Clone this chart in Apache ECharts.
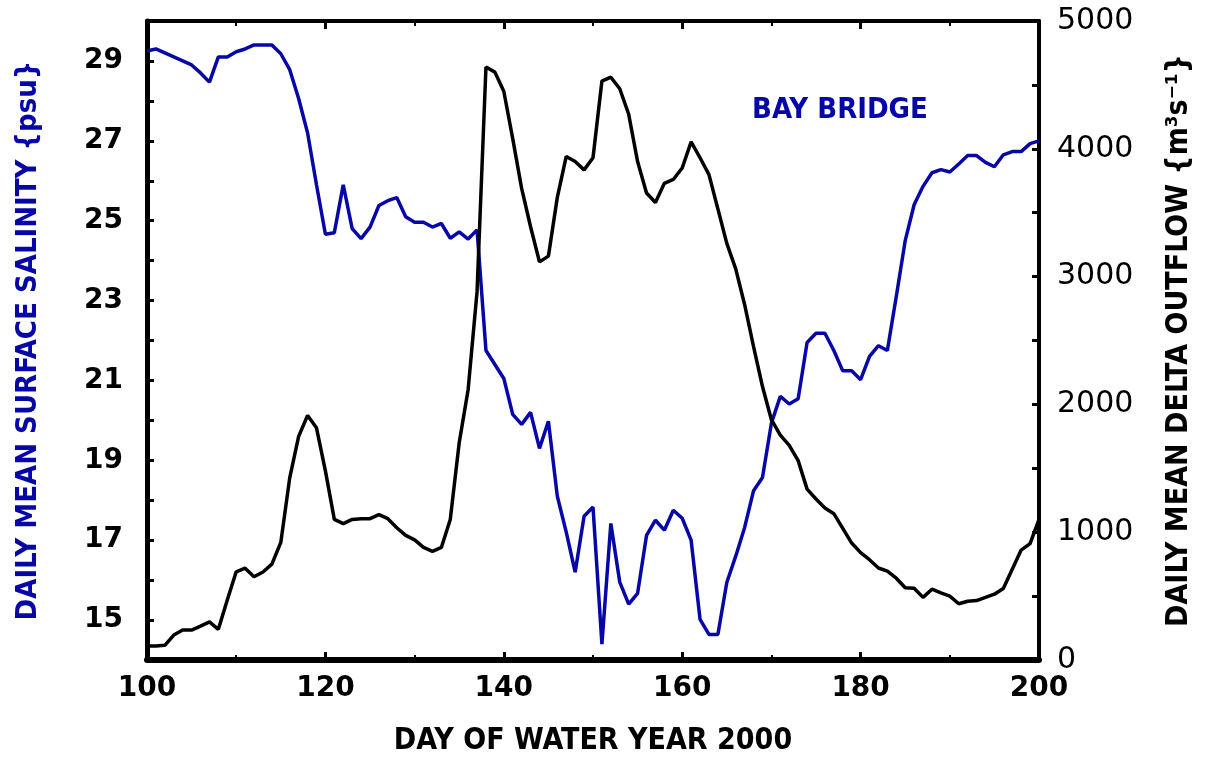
<!DOCTYPE html>
<html>
<head>
<meta charset="utf-8">
<script src="https://cdn.jsdelivr.net/npm/echarts@6/dist/echarts.min.js"></script>
<style>html,body{margin:0;padding:0;background:#fff}#c{width:1206px;height:757px}</style>
</head>
<body>
<div id="c"></div>
<script>
// Day of water year 2000 (daily)
var days = [];
for (var d = 100; d <= 200; d++) days.push(d);

// Daily mean surface salinity at Bay Bridge (psu), days 100..200
var salinity = [
  29.25, 29.3, 29.2, 29.1, 29.0, 28.9, 28.7, 28.47, 29.1, 29.1,
  29.23, 29.3, 29.4, 29.4, 29.4, 29.18, 28.78, 28.06, 27.2, 25.9,
  24.66, 24.7, 25.9, 24.8, 24.55, 24.84, 25.38, 25.5, 25.58, 25.1,
  24.96, 24.96, 24.84, 24.93, 24.56, 24.72, 24.54, 24.77, 21.75, 21.4,
  21.05, 20.15, 19.9, 20.2, 19.3, 19.98, 18.1, 17.2, 16.2, 17.6,
  17.83, 14.4, 17.42, 15.95, 15.4, 15.67, 17.12, 17.5, 17.25, 17.75,
  17.55, 17.0, 15.02, 14.64, 14.64, 15.94, 16.6, 17.32, 18.24, 18.57,
  19.93, 20.6, 20.41, 20.54, 21.95, 22.18, 22.18, 21.75, 21.24, 21.24,
  21.02, 21.6, 21.87, 21.75, 23.1, 24.5, 25.4, 25.86, 26.2, 26.28,
  26.22, 26.42, 26.63, 26.63, 26.46, 26.35, 26.65, 26.73, 26.73, 26.93,
  27.0
];

// Daily mean delta outflow (m3/s), days 100..200
var outflow = [
  110, 110, 115, 195, 234, 234, 265, 298, 240, 470,
  690, 718, 651, 689, 750, 920, 1425, 1750, 1913, 1817,
  1480, 1100, 1067, 1100, 1105, 1106, 1138, 1106, 1035, 975,
  940, 881, 850, 881, 1100, 1700, 2115, 2880, 4640, 4600,
  4450, 4080, 3690, 3390, 3115, 3160, 3620, 3940, 3900, 3835,
  3930, 4530, 4560, 4470, 4270, 3900, 3654, 3580, 3730, 3760,
  3850, 4054, 3930, 3798, 3530, 3260, 3060, 2780, 2452, 2140,
  1880, 1760, 1680, 1560, 1337, 1260, 1190, 1145, 1030, 915,
  840, 785, 720, 695, 640, 565, 561, 490, 554, 525,
  500, 440, 460, 465, 490, 515, 560, 710, 860, 910,
  1100
];

var salinityTicks = [15, 17, 19, 21, 23, 25, 27, 29];
var outflowTicks = [0, 1000, 2000, 3000, 4000, 5000];
var dayTicks = [100, 120, 140, 160, 180, 200];

var BLUE = '#0707a8';
var FONT = "'DejaVu Sans Condensed', 'DejaVu Sans', sans-serif";

function pairs(xs, ys) {
  var out = [];
  for (var i = 0; i < xs.length; i++) out.push([xs[i], ys[i]]);
  return out;
}

var chart = echarts.init(document.getElementById('c'), null, {renderer: 'canvas'});
chart.setOption({
  animation: false,
  backgroundColor: '#fff',
  title: {
    text: 'BAY BRIDGE',
    left: 752, top: 96, padding: 0,
    textStyle: {color: BLUE, fontFamily: FONT, fontSize: 29, fontWeight: 'bold'}
  },
  grid: {left: 147, right: 167, top: 21, bottom: 97, containLabel: false, outerBoundsMode: 'none'},
  xAxis: [{
    type: 'value', min: 100, max: 200, interval: 20,
    name: 'DAY OF WATER YEAR 2000', nameLocation: 'middle', nameGap: 66,
    nameTextStyle: {color: '#000', fontFamily: FONT, fontSize: 30, fontWeight: 'bold'},
    axisLine: {show: true, onZero: false, lineStyle: {color: '#000', width: 6}},
    axisTick: {show: true, inside: true, length: 8, lineStyle: {color: '#000', width: 3}},
    minorTick: {show: true, splitNumber: 2, length: 5, lineStyle: {color: '#000', width: 2}},
    splitLine: {show: false},
    axisLabel: {
      color: '#000', fontFamily: "'DejaVu Sans', sans-serif", fontSize: 28, fontWeight: 'bold', margin: 15,
      formatter: function (v) { return dayTicks.indexOf(v) >= 0 ? String(v) : ''; }
    }
  }, {
    type: 'value', min: 100, max: 200, interval: 20, position: 'top',
    axisLine: {show: true, onZero: false, lineStyle: {color: '#000', width: 4}},
    axisTick: {show: true, inside: true, length: 8, lineStyle: {color: '#000', width: 3}},
    minorTick: {show: true, splitNumber: 2, length: 5, lineStyle: {color: '#000', width: 2}},
    splitLine: {show: false},
    axisLabel: {show: false}
  }],
  yAxis: [{
    type: 'value', min: 14, max: 30, interval: 1, position: 'left',
    name: 'DAILY MEAN SURFACE SALINITY {psu}', nameLocation: 'middle', nameGap: 104, nameRotate: 90,
    nameTextStyle: {color: BLUE, fontFamily: FONT, fontSize: 29, fontWeight: 'bold'},
    axisLine: {show: true, onZero: false, lineStyle: {color: '#000', width: 5}},
    axisTick: {show: true, inside: true, length: 7, lineStyle: {color: '#000', width: 3}},
    splitLine: {show: false},
    axisLabel: {
      color: '#000', fontFamily: "'DejaVu Sans', sans-serif", fontSize: 28, fontWeight: 'bold', margin: 24,
      formatter: function (v) { return salinityTicks.indexOf(v) >= 0 ? String(v) : ''; }
    }
  }, {
    type: 'value', min: 0, max: 5000, interval: 1000, position: 'right',
    name: 'DAILY MEAN DELTA OUTFLOW {m³s⁻¹}', nameLocation: 'middle', nameGap: 125, nameRotate: 90,
    nameTextStyle: {color: '#000', fontFamily: FONT, fontSize: 30, fontWeight: 'bold'},
    axisLine: {show: true, onZero: false, lineStyle: {color: '#000', width: 4}},
    axisTick: {show: true, inside: true, length: 7, lineStyle: {color: '#000', width: 3}},
    minorTick: {show: true, splitNumber: 2, length: 7, lineStyle: {color: '#000', width: 3}},
    splitLine: {show: false},
    axisLabel: {
      color: '#000', fontFamily: "'DejaVu Sans', sans-serif", fontSize: 30, margin: 18,
      formatter: function (v) { return outflowTicks.indexOf(v) >= 0 ? String(v) : ''; }
    }
  }],
  series: [{
    name: 'Salinity', type: 'line', xAxisIndex: 0, yAxisIndex: 0,
    data: pairs(days, salinity), showSymbol: false, symbol: 'none',
    lineStyle: {color: BLUE, width: 3.5}, itemStyle: {color: BLUE}
  }, {
    name: 'Outflow', type: 'line', xAxisIndex: 0, yAxisIndex: 1,
    data: pairs(days, outflow), showSymbol: false, symbol: 'none',
    lineStyle: {color: '#000', width: 3.5}, itemStyle: {color: '#000'}
  }]
});
</script>
</body>
</html>
